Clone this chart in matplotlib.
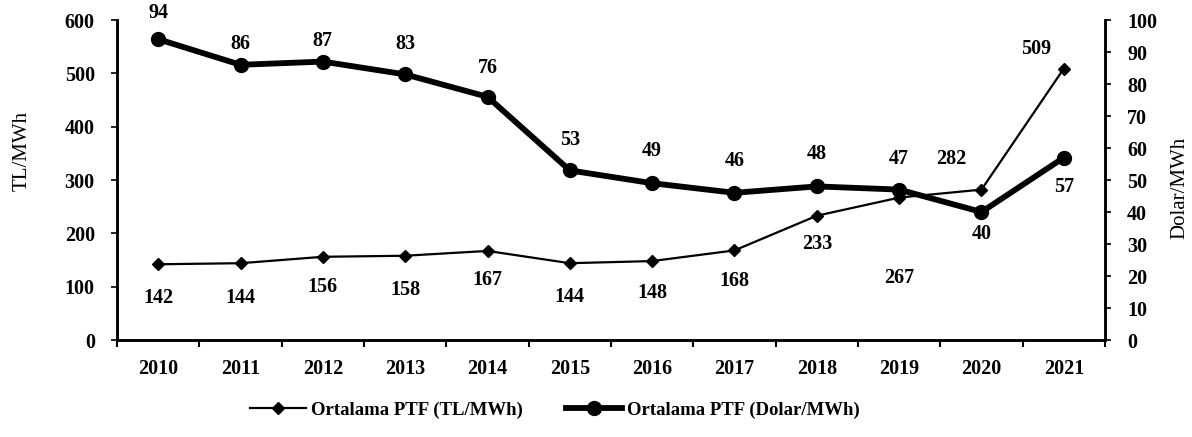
import matplotlib
matplotlib.use("Agg")
import matplotlib.pyplot as plt
from matplotlib.ticker import FixedLocator, NullFormatter

years = ["2010", "2011", "2012", "2013", "2014", "2015", "2016", "2017", "2018", "2019", "2020", "2021"]
tl_values = [142, 144, 156, 158, 167, 144, 148, 168, 233, 267, 282, 509]
usd_values = [94, 86, 87, 83, 76, 53, 49, 46, 48, 47, 40, 57]
tl_label = "Ortalama PTF (TL/MWh)"
usd_label = "Ortalama PTF (Dolar/MWh)"

# label offsets in points (dx, dy) for annotations
tl_offsets = [(0, -24), (0, -25), (0, -22), (0, -25), (0, -21), (0, -24), (0, -23),
              (0, -22), (0, -20), (0, -58), (-22, 22), (-20, 14)]
usd_offsets = [(0, 19), (0, 15), (0, 15), (0, 22), (0, 21), (0, 22), (0, 23),
               (0, 23), (0, 23), (0, 22), (0, -16), (0, -21)]

serif = ["Liberation Serif", "DejaVu Serif"]
plt.rcParams["font.family"] = serif

fig = plt.figure(figsize=(11.92, 4.37), dpi=100)
ax = fig.add_axes([117 / 1192, 1 - 340 / 437, (1105 - 117) / 1192, 320 / 437])
ax2 = ax.twinx()

x = list(range(len(years)))
l1, = ax.plot(x, tl_values, color="black", lw=1.6, marker="D", ms=6, zorder=3)
l2, = ax2.plot(x, usd_values, color="black", lw=4.2, marker="o", ms=10, zorder=3)

ax.set_xlim(-0.5, len(years) - 0.5)
ax.set_ylim(0, 600)
ax2.set_ylim(0, 100)
ax.set_yticks(range(0, 601, 100))
ax2.set_yticks(range(0, 101, 10))

ax.set_xticks(x)
ax.set_xticklabels(years)
ax.tick_params(axis="x", which="major", length=0, pad=14)
ax.xaxis.set_minor_locator(FixedLocator([i - 0.5 for i in range(len(years) + 1)]))
ax.xaxis.set_minor_formatter(NullFormatter())
ax.tick_params(axis="x", which="minor", length=5, width=1.5, direction="out")
ax.tick_params(axis="y", length=4, width=1.2, direction="out", pad=12)
ax2.tick_params(axis="y", length=4, width=1.2, direction="out", pad=12)

tick_font = dict(family=serif, weight="bold", size=14.5)
for lab in ax.get_xticklabels() + ax.get_yticklabels() + ax2.get_yticklabels():
    lab.set_fontproperties(matplotlib.font_manager.FontProperties(**tick_font))

for a in (ax, ax2):
    a.spines["top"].set_visible(False)
    for s in ("left", "right", "bottom"):
        a.spines[s].set_linewidth(1.8)

fig.text(22 / 1192, 1 - 151 / 437, "TL/MWh", rotation=90, ha="center", va="center",
         fontsize=15, family=serif)
fig.text(1180 / 1192, 1 - 188 / 437, "Dolar/MWh", rotation=90, ha="center", va="center",
         fontsize=15, family=serif)

for i, v in enumerate(tl_values):
    ax.annotate(str(v), (i, v), xytext=tl_offsets[i], textcoords="offset points",
                ha="center", va="center", fontsize=14.5, fontweight="bold")
for i, v in enumerate(usd_values):
    ax2.annotate(str(v), (i, v), xytext=usd_offsets[i], textcoords="offset points",
                 ha="center", va="center", fontsize=14.5, fontweight="bold")

fig.legend([l1, l2], [tl_label, usd_label], loc="center left",
           bbox_to_anchor=(250 / 1192, 1 - 410 / 437),
           ncol=2, frameon=False, prop=dict(family=serif, weight="bold", size=13.5),
           handlelength=3.0, columnspacing=2.3, handletextpad=0.25, borderpad=0,
           borderaxespad=0)

fig.savefig("out.png", dpi=100)
